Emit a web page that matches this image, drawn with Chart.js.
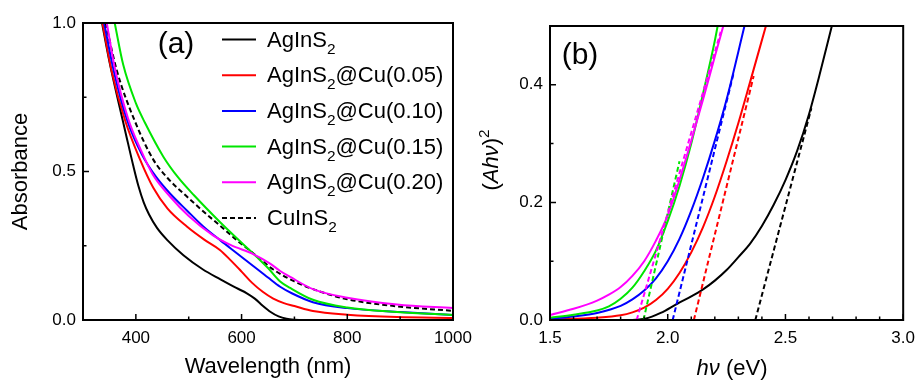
<!DOCTYPE html>
<html>
<head>
<meta charset="utf-8">
<script src="https://cdn.jsdelivr.net/npm/chart.js@4/dist/chart.umd.min.js"></script>
<style>
  body { margin: 0; background: #fff; }
  #wrap { position: relative; width: 923px; height: 381px; overflow: hidden; }
  #chartA { position: absolute; left: 0; top: 0; }
  #chartB { position: absolute; left: 460px; top: 0; }
</style>
</head>
<body>
<div id="wrap">
  <canvas id="chartA" width="480" height="381"></canvas>
  <canvas id="chartB" width="463" height="381"></canvas>
</div>
<script>
// ---- panel (a): absorbance vs wavelength, [nm, A] ----
const absAgInS2 = [[336,1.0],[350,0.87],[365,0.75],[380,0.635],[395,0.52],[405,0.45],[415,0.395],[425,0.355],[440,0.31],[460,0.268],[490,0.218],[527,0.17],[560,0.137],[590,0.108],[610,0.09],[625,0.072],[640,0.048],[655,0.027],[670,0.012],[685,0.004],[700,0.001],[720,0],[1000,0]];
const absCu005 = [[337,1.0],[354,0.84],[380,0.67],[408,0.54],[433,0.445],[460,0.375],[497,0.314],[530,0.27],[559,0.236],[580,0.2],[600,0.163],[620,0.125],[640,0.095],[660,0.072],[680,0.057],[700,0.047],[735,0.03],[800,0.018],[894,0.01],[1000,0.007]];
const absCu010 = [[340,1.0],[358,0.84],[384,0.67],[412,0.555],[439,0.48],[465,0.425],[497,0.368],[527,0.316],[560,0.268],[591,0.225],[622,0.182],[650,0.143],[673,0.112],[695,0.09],[735,0.06],[800,0.04],[900,0.027],[1000,0.017]];
const absCu015 = [[360,1.0],[376,0.86],[400,0.73],[417,0.665],[452,0.55],[480,0.48],[510,0.42],[559,0.33],[600,0.26],[630,0.21],[650,0.175],[673,0.13],[692,0.108],[735,0.068],[800,0.042],[894,0.027],[1000,0.017]];
const absCu020 = [[345,1.0],[360,0.85],[385,0.68],[410,0.57],[432,0.49],[465,0.415],[500,0.35],[546,0.285],[580,0.252],[622,0.222],[654,0.19],[673,0.165],[692,0.145],[735,0.104],[800,0.075],[894,0.052],[1000,0.04]];
const absCuInS2 = [[343,1.0],[364,0.84],[398,0.67],[433,0.54],[460,0.478],[497,0.415],[530,0.362],[559,0.318],[590,0.27],[622,0.225],[660,0.17],[700,0.13],[735,0.104],[800,0.07],[894,0.046],[1000,0.031]];
const waveTicks = [400, 600, 800, 1000];
const waveMinor = [500, 700, 900];
const absTicks = [0, 0.5, 1.0];
const absMinor = [0.25, 0.75];

// ---- panel (b): (Ahv)^2 vs photon energy, [eV, value] ----
const taucAgInS2 = [[1.5,0],[1.85,0],[1.903,0.002],[1.97,0.012],[2.042,0.028],[2.1,0.04],[2.15,0.052],[2.2,0.067],[2.25,0.085],[2.3,0.107],[2.35,0.13],[2.4,0.16],[2.45,0.196],[2.5,0.238],[2.55,0.288],[2.6,0.35],[2.65,0.425],[2.697,0.5]];
const taucCu005 = [[1.5,0.001],[1.7,0.004],[1.8,0.008],[1.85,0.013],[1.9,0.021],[1.95,0.034],[2.0,0.053],[2.05,0.08],[2.1,0.115],[2.15,0.158],[2.2,0.21],[2.25,0.27],[2.3,0.335],[2.35,0.405],[2.417,0.5]];
const taucCu010 = [[1.5,0.002],[1.6,0.006],[1.7,0.012],[1.8,0.024],[1.85,0.035],[1.9,0.05],[1.95,0.071],[2.0,0.1],[2.05,0.138],[2.1,0.186],[2.15,0.242],[2.2,0.305],[2.25,0.375],[2.326,0.5]];
const taucCu015 = [[1.5,0.004],[1.6,0.009],[1.7,0.016],[1.75,0.023],[1.8,0.036],[1.85,0.055],[1.9,0.083],[1.95,0.118],[2.0,0.168],[2.05,0.228],[2.1,0.3],[2.15,0.385],[2.2,0.475],[2.212,0.5]];
const taucCu020 = [[1.5,0.0085],[1.6,0.019],[1.7,0.033],[1.75,0.043],[1.8,0.056],[1.85,0.075],[1.9,0.1],[1.95,0.135],[2.0,0.178],[2.05,0.238],[2.1,0.305],[2.15,0.375],[2.2,0.448],[2.236,0.5]];
// linear fits (band-gap extrapolation)
const fitAgInS2 = [[2.372,0],[2.61,0.36]];
const fitCu005 = [[2.111,0],[2.365,0.415]];
const fitCu010 = [[2.021,0],[2.28,0.42]];
const fitCu015 = [[1.897,0],[2.05,0.27]];
const fitCu020 = [[1.868,0],[2.225,0.49]];
const energyTicks = [1.5, 2.0, 2.5, 3.0];
const energyMinor = [1.6,1.7,1.8,1.9,2.1,2.2,2.3,2.4,2.6,2.7,2.8,2.9];
const taucTicks = [0, 0.2, 0.4];
const taucMinor = [0.1, 0.3];

const seriesColors = ['#000000', '#ff0000', '#0000ff', '#00e600', '#ff00ff', '#000000'];
const legendNames = [
  [['AgInS'], ['2', 'sub']],
  [['AgInS'], ['2', 'sub'], ['@Cu(0.05)']],
  [['AgInS'], ['2', 'sub'], ['@Cu(0.10)']],
  [['AgInS'], ['2', 'sub'], ['@Cu(0.15)']],
  [['AgInS'], ['2', 'sub'], ['@Cu(0.20)']],
  [['CuInS'], ['2', 'sub']]
];

const FAMILY = '"Liberation Sans", Arial, Helvetica, sans-serif';
const toXY = arr => arr.map(p => ({ x: p[0], y: p[1] }));

function drawRich(ctx, parts, x, y, size) {
  let cx = x;
  parts.forEach(([t, st]) => {
    const small = st === 'sub' || st === 'sup';
    const fs = small ? size * 0.7 : size;
    ctx.font = (st === 'i' ? 'italic ' : '') + fs + 'px ' + FAMILY;
    const dy = st === 'sub' ? size * 0.32 : st === 'sup' ? -size * 0.42 : 0;
    ctx.fillText(t, cx, y + dy);
    cx += ctx.measureText(t).width;
  });
  return cx - x;
}
function richWidth(ctx, parts, size) {
  let w = 0;
  parts.forEach(([t, st]) => {
    const small = st === 'sub' || st === 'sup';
    ctx.font = (st === 'i' ? 'italic ' : '') + (small ? size * 0.7 : size) + 'px ' + FAMILY;
    w += ctx.measureText(t).width;
  });
  return w;
}

// frame box + inward tick marks
const frameTicks = {
  id: 'frameTicks',
  afterDatasetsDraw(chart, args, opts) {
    const { ctx, chartArea: a, scales: { x, y } } = chart;
    ctx.save();
    ctx.strokeStyle = '#000';
    ctx.lineWidth = 1.5;
    ctx.beginPath();
    opts.xMajor.forEach(v => { const px = x.getPixelForValue(v); ctx.moveTo(px, a.bottom); ctx.lineTo(px, a.bottom - 6); });
    opts.xMinor.forEach(v => { const px = x.getPixelForValue(v); ctx.moveTo(px, a.bottom); ctx.lineTo(px, a.bottom - 3.5); });
    opts.yMajor.forEach(v => { const py = y.getPixelForValue(v); ctx.moveTo(a.left, py); ctx.lineTo(a.left + 6, py); });
    opts.yMinor.forEach(v => { const py = y.getPixelForValue(v); ctx.moveTo(a.left, py); ctx.lineTo(a.left + 3.5, py); });
    ctx.stroke();
    ctx.lineWidth = 2;
    ctx.strokeRect(a.left, a.top, a.width, a.height);
    ctx.restore();
  }
};

// panel labels, legend and rich axis titles
const decorations = {
  id: 'decorations',
  afterDraw(chart, args, opts) {
    const ctx = chart.ctx;
    ctx.save();
    ctx.fillStyle = '#000';
    ctx.textBaseline = 'middle';
    ctx.textAlign = 'center';
    ctx.font = '30px ' + FAMILY;
    ctx.fillText(opts.tag, opts.tagX, opts.tagY);
    ctx.textAlign = 'left';
    ctx.textBaseline = 'alphabetic';
    if (opts.legend) {
      legendNames.forEach((parts, i) => {
        const ly = 39.5 + i * 35.7;
        ctx.strokeStyle = seriesColors[i];
        ctx.lineWidth = 2;
        ctx.setLineDash(i === 5 ? [5, 3] : []);
        ctx.beginPath();
        ctx.moveTo(222, ly);
        ctx.lineTo(256, ly);
        ctx.stroke();
        ctx.setLineDash([]);
        ctx.fillStyle = '#000';
        drawRich(ctx, parts, 267, ly + 7, 22);
      });
    }
    if (opts.xTitle) {
      const w = richWidth(ctx, opts.xTitle, 22);
      drawRich(ctx, opts.xTitle, opts.xTitleX - w / 2, opts.xTitleY, 22);
    }
    if (opts.yTitle) {
      const w = richWidth(ctx, opts.yTitle, 22);
      ctx.translate(opts.yTitleX, opts.yTitleY);
      ctx.rotate(-Math.PI / 2);
      drawRich(ctx, opts.yTitle, -w / 2, 8, 22);
    }
    ctx.restore();
  }
};

function lineSet(data, color, dashed) {
  return {
    data: toXY(data),
    borderColor: color,
    borderWidth: 2,
    borderDash: dashed ? [5, 3] : [],
    pointRadius: 0,
    fill: false,
    cubicInterpolationMode: 'monotone',
    tension: 0.4
  };
}

const tickFont = { family: FAMILY, size: 17 };

function axis(min, max, major, fmt, isX, size) {
  return {
    type: 'linear',
    min: min,
    max: max,
    afterBuildTicks: s => { s.ticks = major.map(v => ({ value: v })); },
    afterFit: s => { if (isX) s.height = size; else s.width = size; },
    ticks: {
      font: tickFont,
      color: '#000',
      padding: isX ? 8 : 7,
      maxRotation: 0,
      autoSkip: false,
      callback: fmt
    },
    grid: { display: false, drawTicks: false },
    border: { display: false }
  };
}

// ---- panel (a) ----
const scaleAx = axis(300, 1000, waveTicks, v => String(v), true, 61);
scaleAx.title = { display: true, text: 'Wavelength (nm)', color: '#000', font: { family: FAMILY, size: 22 }, padding: { top: 0, bottom: 1 } };
const scaleAy = axis(0, 1, absTicks, v => v.toFixed(1), false, 83);
scaleAy.title = { display: true, text: 'Absorbance', color: '#000', font: { family: FAMILY, size: 22 }, padding: { top: 8, bottom: 0 } };

new Chart(document.getElementById('chartA'), {
  type: 'line',
  data: {
    datasets: [
      lineSet(absCu020, seriesColors[4]),
      lineSet(absCu015, seriesColors[3]),
      lineSet(absCuInS2, seriesColors[5], true),
      lineSet(absCu010, seriesColors[2]),
      lineSet(absCu005, seriesColors[1]),
      lineSet(absAgInS2, seriesColors[0])
    ]
  },
  options: {
    responsive: false,
    animation: false,
    layout: { padding: { left: 0, right: 27, top: 23, bottom: 0 } },
    scales: { x: scaleAx, y: scaleAy },
    plugins: {
      legend: { display: false },
      tooltip: { enabled: false },
      frameTicks: { xMajor: waveTicks, xMinor: waveMinor, yMajor: absTicks, yMinor: absMinor },
      decorations: { tag: '(a)', tagX: 176, tagY: 45, legend: true }
    }
  },
  plugins: [frameTicks, decorations]
});

// ---- panel (b) ----
new Chart(document.getElementById('chartB'), {
  type: 'line',
  data: {
    datasets: [
      lineSet(fitCu020, seriesColors[4], true),
      lineSet(fitCu015, seriesColors[3], true),
      lineSet(fitCu010, seriesColors[2], true),
      lineSet(fitCu005, seriesColors[1], true),
      lineSet(fitAgInS2, seriesColors[0], true),
      lineSet(taucCu020, seriesColors[4]),
      lineSet(taucCu015, seriesColors[3]),
      lineSet(taucCu010, seriesColors[2]),
      lineSet(taucCu005, seriesColors[1]),
      lineSet(taucAgInS2, seriesColors[0])
    ]
  },
  options: {
    responsive: false,
    animation: false,
    layout: { padding: { left: 0, right: 14, top: 26, bottom: 0 } },
    scales: {
      x: axis(1.5, 3.0, energyTicks, v => v.toFixed(1), true, 61),
      y: axis(0, 0.5, taucTicks, v => v.toFixed(1), false, 90)
    },
    plugins: {
      legend: { display: false },
      tooltip: { enabled: false },
      frameTicks: { xMajor: energyTicks, xMinor: energyMinor, yMajor: taucTicks, yMinor: taucMinor },
      decorations: {
        tag: '(b)', tagX: 120, tagY: 56,
        xTitle: [['h\u03bd', 'i'], [' (eV)']], xTitleX: 272, xTitleY: 375,
        yTitle: [['('], ['Ah\u03bd', 'i'], [')'], ['2', 'sup']], yTitleX: 30, yTitleY: 160
      }
    }
  },
  plugins: [frameTicks, decorations]
});
</script>
</body>
</html>
